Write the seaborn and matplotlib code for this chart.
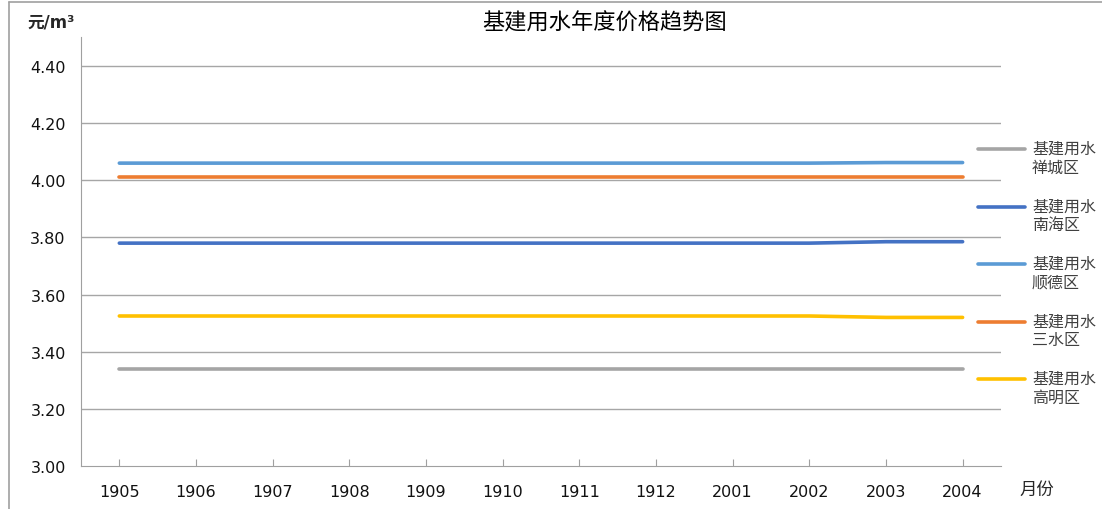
import seaborn as sns
import matplotlib.pyplot as plt
import pandas as pd
from matplotlib.lines import Line2D

# 月份 (x 轴类别)
months = ['1905', '1906', '1907', '1908', '1909', '1910',
          '1911', '1912', '2001', '2002', '2003', '2004']

# 各区基建用水价格 (元/m³)
chancheng = [3.34] * 12
nanhai = [3.78] * 10 + [3.785, 3.785]
shunde = [4.06] * 10 + [4.062, 4.062]
sanshui = [4.01] * 12
gaoming = [3.525] * 10 + [3.52, 3.52]

series_names = ['基建用水\n禅城区', '基建用水\n南海区', '基建用水\n顺德区',
                '基建用水\n三水区', '基建用水\n高明区']
series_values = [chancheng, nanhai, shunde, sanshui, gaoming]
colors = ['#A5A5A5', '#4472C4', '#5B9BD5', '#ED7D31', '#FFC000']

yticks = [3.00, 3.20, 3.40, 3.60, 3.80, 4.00, 4.20, 4.40]

rows = []
for name, vals in zip(series_names, series_values):
    for m, v in zip(months, vals):
        rows.append({'月份': m, '价格': v, '区': name})
df = pd.DataFrame(rows)

sns.set_style('white')
plt.rcParams['font.family'] = ['DejaVu Sans', 'Noto Sans CJK SC']

fig = plt.figure(figsize=(11.02, 5.1), dpi=100)
ax = fig.add_axes([0.0735, 0.0843, 0.8348, 0.8404])

sns.lineplot(data=df, x='月份', y='价格', hue='区', palette=colors,
             linewidth=2.6, ax=ax, legend=False, sort=False)

ax.set_xlim(-0.5, len(months) - 0.5)
ax.set_ylim(3.0, 4.5)
ax.set_yticks(yticks)
ax.set_yticklabels([f'{t:.2f}' for t in yticks], fontsize=11.5, color='#111111')
ax.set_xticks(range(len(months)))
ax.set_xticklabels(months, fontsize=11.5, color='#111111')
ax.tick_params(axis='x', length=5, color='#A0A0A0', pad=13, direction='in', bottom=True)
ax.tick_params(axis='y', length=0, pad=11)
ax.set_xlabel('')
ax.set_ylabel('')

for y in yticks[1:]:
    ax.axhline(y, color='#A6A6A6', linewidth=1, zorder=0)

for side in ['top', 'right']:
    ax.spines[side].set_visible(False)
ax.spines['left'].set_color('#A0A0A0')
ax.spines['bottom'].set_color('#A0A0A0')

# 图例 (手动排列, 线与第一行文字对齐)
leg_top = 1 - 150 / 510
leg_step = 57.5 / 510
for i, (name, c) in enumerate(zip(series_names, colors)):
    y = leg_top - i * leg_step
    fig.add_artist(Line2D([0.8875, 0.930], [y, y], color=c, linewidth=2.6,
                          transform=fig.transFigure))
    fig.text(0.9365, y + 8 / 510, name, ha='left', va='top', fontsize=11.5,
             color='#404040', linespacing=1.3)

fig.text(0.549, 0.955, '基建用水年度价格趋势图', ha='center', va='center',
         fontsize=16, color='#000000', fontweight='medium')
fig.text(0.025, 0.955, '元/m³', ha='left', va='center', fontsize=12,
         fontweight='bold')
fig.text(0.925, 0.04, '月份', ha='left', va='center', fontsize=12.5)

# 外框
fig.add_artist(Line2D([0.008, 0.008], [0, 0.995], color='#A0A0A0', linewidth=1.2,
                      transform=fig.transFigure))
fig.add_artist(Line2D([0.008, 1], [0.995, 0.995], color='#A0A0A0', linewidth=1.2,
                      transform=fig.transFigure))

fig.savefig('out.png', dpi=100)
